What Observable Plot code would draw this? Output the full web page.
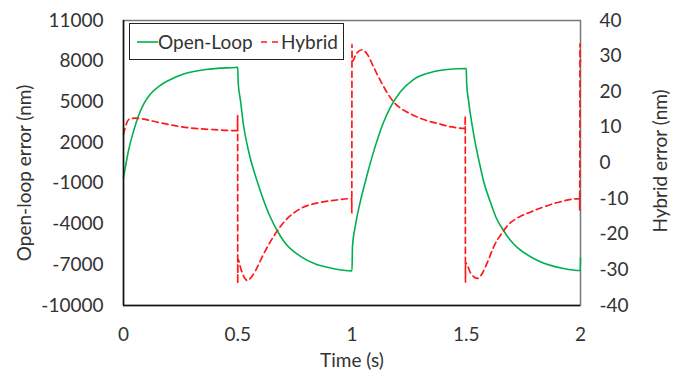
<!DOCTYPE html>
<html>
<head>
<meta charset="utf-8">
<script src="https://cdn.jsdelivr.net/npm/d3@7"></script>
<script src="https://cdn.jsdelivr.net/npm/@observablehq/plot@0.6"></script>
<style>
  body { margin: 0; background: #fff; }
  #wrap { position: relative; width: 683px; height: 370px; font-family: Lato, "Open Sans", sans-serif; }
  #legend { position: absolute; left: 129px; top: 23px; }
</style>
</head>
<body>
<div id="wrap"></div>
<script>
// ---- data ----
const xTicks = [0, 0.5, 1, 1.5, 2];
const leftTicks = [-10000, -7000, -4000, -1000, 2000, 5000, 8000, 11000];
const rightTicks = [-40, -30, -20, -10, 0, 10, 20, 30, 40];

const timeOL = [0, 0.022, 0.045, 0.066, 0.09, 0.12, 0.155, 0.197, 0.27, 0.36, 0.49, 0.5,
  0.502, 0.512, 0.525, 0.547, 0.59, 0.635, 0.687, 0.71, 0.775, 0.84, 0.91, 1.0,
  1.002, 1.015, 1.037, 1.058, 1.068, 1.094, 1.138, 1.168, 1.212, 1.269, 1.344, 1.418, 1.5,
  1.502, 1.51, 1.532, 1.562, 1.575, 1.606, 1.63, 1.663, 1.694, 1.724, 1.812, 1.926, 1.999, 2.0];
const openLoop = [-600, 1420, 2900, 4000, 4900, 5620, 6150, 6580, 7090, 7390, 7540, 7550,
  6400, 5100, 3300, 1400, -1100, -3200, -4900, -5450, -6380, -6950, -7250, -7450,
  -5700, -4100, -2300, -900, -250, 1300, 3500, 4600, 5750, 6650, 7170, 7390, 7460,
  6300, 5100, 2670, 170, -790, -2400, -3500, -4470, -5210, -5730, -6680, -7270, -7420, -6500];

const timeHy = [0, 0.01, 0.025, 0.05, 0.08, 0.153, 0.27, 0.385, 0.49, 0.499, 0.4995,
  0.5, 0.5005, 0.515, 0.53, 0.542, 0.56, 0.578, 0.6, 0.621, 0.665, 0.709, 0.775, 0.85, 0.919, 0.998,
  0.9985, 0.999, 1.0, 1.0005, 1.02, 1.045, 1.07, 1.094, 1.138, 1.18, 1.212, 1.256, 1.314, 1.374, 1.43, 1.495,
  1.4955, 1.4965, 1.497, 1.52, 1.549, 1.57, 1.595, 1.619, 1.66, 1.685, 1.73, 1.78, 1.84, 1.9, 1.996,
  1.9965, 1.998, 1.999, 2.0];
const hybrid = [8, 10.5, 12.3, 12.6, 12.4, 11.4, 10, 9.4, 9.1, 9.1, 13.3,
  -33.8, -27, -30, -32.3, -33, -32, -30.2, -27.3, -24.6, -19.8, -16.1, -12.8, -11.2, -10.5, -10,
  -10, -14, 33.3, 28.5, 30.8, 31.8, 30.2, 27, 21.5, 17.3, 15.4, 13.8, 12.2, 11.1, 10.2, 9.7,
  13.3, -33.5, -28, -31, -32.4, -31, -27.5, -23.7, -19.3, -17.3, -15.2, -13.8, -12.3, -11.1, -10,
  -13.3, 33.5, 28, 29];

// ---- helpers: map right-axis (hybrid) values onto left scale ----
const toL = h => 500 + h * 262.5;
const fromL = v => Math.round((v - 500) / 262.5);

const olData = timeOL.map((t, i) => ({t, v: openLoop[i]}));
const hyData = timeHy.map((t, i) => ({t, v: toL(hybrid[i])}));

const textColor = "#333";
const font = 19;
const fam = "Lato, 'Open Sans', sans-serif";

const chart = Plot.plot({
  width: 683,
  height: 370,
  marginLeft: 123,
  marginRight: 103,
  marginTop: 20,
  marginBottom: 65,
  style: {fontFamily: fam, fontSize: font + "px", color: textColor, background: "#fff"},
  x: {domain: [0, 2]},
  y: {domain: [-10000, 11000]},
  marks: [
    Plot.frame({stroke: "#777", strokeWidth: 1.5}),
    Plot.line(olData, {x: "t", y: "v", stroke: "#00B050", strokeWidth: 1.6, curve: "monotone-x"}),
    Plot.line(hyData, {x: "t", y: "v", stroke: "#FF1A1A", strokeWidth: 1.7, strokeDasharray: "6,4", curve: "monotone-x"}),
    Plot.ruleX([0], {stroke: "#111", strokeWidth: 1.5}),
    Plot.ruleY([-10000], {stroke: "#111", strokeWidth: 1.5}),
    Plot.axisY({ticks: leftTicks, tickSize: 0, tickPadding: 20, tickFormat: d => String(d), label: null, fontSize: font, fill: textColor}),
    Plot.axisY({anchor: "right", ticks: rightTicks.map(toL), tickSize: 0, tickPadding: 19, tickFormat: d => String(fromL(d)), label: null, fontSize: font, fill: textColor}),
    Plot.axisX({ticks: xTicks, tickSize: 0, tickPadding: 22, tickFormat: d => String(d), label: null, fontSize: font, fill: textColor}),
    Plot.text(["Open-loop error (nm)"], {frameAnchor: "left", textAnchor: "middle", dx: -99, dy: 10, rotate: -90, fontSize: font, fill: textColor}),
    Plot.text(["Hybrid error (nm)"], {frameAnchor: "right", textAnchor: "middle", dx: 80, dy: -2, rotate: -90, fontSize: font, fill: textColor}),
    Plot.text(["Time (s)"], {frameAnchor: "bottom", lineAnchor: "middle", dy: 55, fontSize: font, fill: textColor})
  ]
});

const wrap = document.getElementById("wrap");
wrap.appendChild(chart);

// legend (inside plot area, top-left)
const ns = "http://www.w3.org/2000/svg";
const leg = document.createElementNS(ns, "svg");
leg.setAttribute("id", "legend");
leg.setAttribute("width", "215");
leg.setAttribute("height", "37");
leg.innerHTML = `
  <rect x="0.5" y="0.5" width="214" height="36" fill="#fff" stroke="#222" stroke-width="1"/>
  <line x1="8" y1="19" x2="29" y2="19" stroke="#00B050" stroke-width="1.6"/>
  <text x="29" y="25.5" font-family="${fam}" font-size="${font}" fill="${textColor}">Open-Loop</text>
  <line x1="132" y1="19" x2="150" y2="19" stroke="#FF1A1A" stroke-width="1.7" stroke-dasharray="6,5"/>
  <text x="152" y="25.5" font-family="${fam}" font-size="${font}" fill="${textColor}">Hybrid</text>
`;
wrap.appendChild(leg);
</script>
</body>
</html>
